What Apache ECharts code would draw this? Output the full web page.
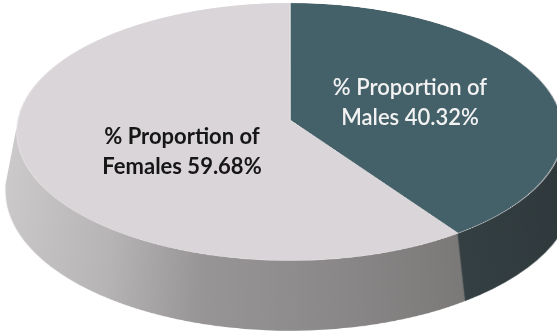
<!DOCTYPE html>
<html>
<head>
<meta charset="utf-8">
<script src="https://cdn.jsdelivr.net/npm/echarts@6/dist/echarts.min.js"></script>
<style>
  html, body { margin: 0; padding: 0; background: #ffffff; }
  #wrap { position: relative; width: 557px; height: 333px; overflow: hidden; background: #ffffff; }
  #pie { position: absolute; left: 0; width: 620px; height: 700px; }
  #labels { position: absolute; left: 0; top: 0; width: 557px; height: 333px; }
</style>
</head>
<body>
<div id="wrap">
  <div id="pie"></div>
  <div id="labels"></div>
</div>
<script>
// ---- data ----
const categories = ['Males', 'Females'];
const values = [40.32, 59.68];
const labelPrefix = '% Proportion of';

// ---- styles ----
const topColors = ['#446068', '#d9d5d8'];
const textColors = ['#f2f2f2', '#161616'];
const labelPos = [[410, 103], [182, 152]];

// geometry: pie drawn flat, then tilted with a CSS perspective transform
const cx = 290, radius = 272;
const apexScreenY = 120;     // where the pie centre lands on screen
const cyPlane = 285;         // pie centre inside the tilted div
const depth = 118;           // thickness, in plane pixels
const pieDiv = document.getElementById('pie');
pieDiv.style.top = (apexScreenY - cyPlane) + 'px';
pieDiv.style.transformOrigin = cx + 'px ' + cyPlane + 'px';
pieDiv.style.transform = 'perspective(2630px) rotateX(62deg)';

const sideColors = [
  new echarts.graphic.LinearGradient(0, 0, 1, 0, [
    { offset: 0, color: '#3c494d' }, { offset: 1, color: '#2e383b' }
  ]),
  new echarts.graphic.LinearGradient(0, 0, 1, 0, [
    { offset: 0, color: '#cbc9c9' }, { offset: 0.25, color: '#b6b4b4' },
    { offset: 0.45, color: '#979595' }, { offset: 0.75, color: '#898787' },
    { offset: 1, color: '#7b7978' }
  ])
];

function pieData(colors, border) {
  return categories.map((c, i) => ({
    name: c,
    value: values[i],
    itemStyle: { color: colors[i], borderWidth: border ? 1 : 0, borderColor: '#e6e3e5' }
  }));
}

const series = [];
const step = 2;
for (let d = depth; d > 0; d -= step) {
  series.push({
    type: 'pie', silent: true, animation: false,
    center: [cx, cyPlane + d], radius: radius,
    startAngle: 90, clockwise: true,
    label: { show: false }, labelLine: { show: false },
    data: pieData(sideColors, false)
  });
}
series.push({
  type: 'pie', silent: true, animation: false,
  center: [cx, cyPlane], radius: radius,
  startAngle: 90, clockwise: true,
  label: { show: false }, labelLine: { show: false },
  data: pieData(topColors, true)
});

const pieChart = echarts.init(pieDiv, null, { renderer: 'canvas' });
pieChart.setOption({ animation: false, series: series });

const labelChart = echarts.init(document.getElementById('labels'));
labelChart.setOption({
  animation: false,
  graphic: categories.map((c, i) => ({
    type: 'text',
    x: labelPos[i][0], y: labelPos[i][1],
    silent: true,
    style: {
      text: labelPrefix + '\n' + c + ' ' + values[i].toFixed(2) + '%',
      fill: textColors[i],
      font: (i === 0 ? '600 ' : 'bold ') + '22px Lato',
      lineHeight: 30,
      align: 'center',
      verticalAlign: 'middle'
    }
  }))
});
</script>
</body>
</html>
